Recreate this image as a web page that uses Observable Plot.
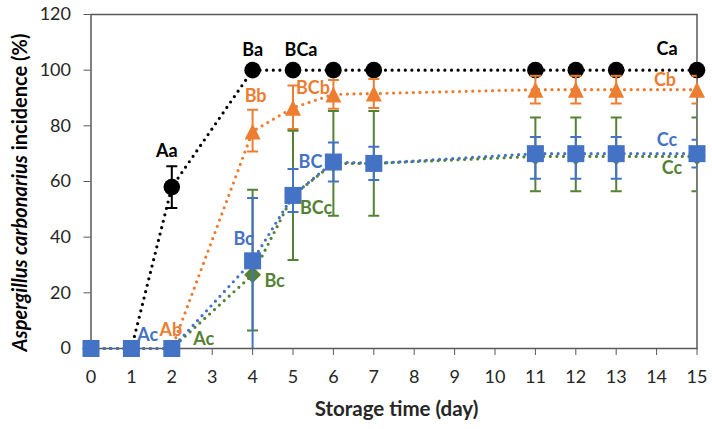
<!DOCTYPE html>
<html>
<head>
<meta charset="utf-8">
<script src="https://cdn.jsdelivr.net/npm/d3@7"></script>
<script src="https://cdn.jsdelivr.net/npm/@observablehq/plot@0.6"></script>
<style>
  body { margin: 0; background: #fff; }
  svg { display: block; }
</style>
</head>
<body>
<div id="chart"></div>
<script>
// Storage days that were sampled
const days = [0, 1, 2, 4, 5, 6, 7, 11, 12, 13, 15];

// Incidence (%) per treatment, with error bar extents (plus / minus)
const incA = [0, 0, 58, 100, 100, 100, 100, 100, 100, 100, 100];
const errAPlus = [0, 0, 7.5, 0, 0, 0, 0, 0, 0, 0, 0];
const errAMinus = [0, 0, 7.5, 0, 0, 0, 0, 0, 0, 0, 0];

const incB = [0, 0, 0, 78, 86.5, 91.3, 91.6, 93, 93, 93, 93];
const errBPlus = [0, 0, 0, 7.8, 8, 5.2, 5.2, 5, 5, 5, 5];
const errBMinus = [0, 0, 0, 7.2, 7.6, 5.2, 5.2, 5, 5, 5, 5];

const incC = [0, 0, 0, 31.5, 55, 67, 66.5, 70, 70, 70, 70];
const errCPlus = [0, 0, 0, 22.6, 9.5, 7, 6, 6, 6, 6, 5];
const errCMinus = [0, 0, 0, 34, 6, 7, 6, 9, 9, 9, 5];

const incD = [0, 0, 0, 26.5, 55, 66.5, 66.5, 69, 69, 69, 69];
const errDPlus = [0, 0, 0, 30.5, 23.2, 18.8, 18.8, 14, 14, 14, 14];
const errDMinus = [0, 0, 0, 20, 23.2, 18.8, 18.8, 12.5, 12.5, 12.5, 12.5];

// Axis ticks
const xTicks = [0, 1, 2, 3, 4, 5, 6, 7, 8, 9, 10, 11, 12, 13, 14, 15];
const yTicks = [0, 20, 40, 60, 80, 100, 120];

// Significance letters: series, day, text
const letterSeries = ["A", "B", "C", "D", "A", "B", "C", "D", "A", "B", "D", "C", "A", "B", "C", "D"];
const letterDay    = [2,   2,   2,   2,   4,   4,   4,   4,   5,   5,   5,   6,   15,  15,  15,  15];
const letterText   = ["Aa", "Ab", "Ac", "Ac", "Ba", "Bb", "Bc", "Bc", "BCa", "BCb", "BCc", "BC", "Ca", "Cb", "Cc", "Cc"];
// pixel offsets of each letter from its point
const letterDx = [-5, -1, -24, 32, 0, 3, -9, 22, 8, 20, 23, -23, -30, -32, -30, -25];
const letterDy = [-36, -18, -13, -9, -20, -35, -22, 6, -20, -20, 13, 0, -21, -9, -13, 12];

// Marker shapes
const triangleUp = {
  draw(ctx, size) {
    const s = Math.sqrt(size);
    ctx.moveTo(0, -s / 2);
    ctx.lineTo(s / 2, s / 2);
    ctx.lineTo(-s / 2, s / 2);
    ctx.closePath();
  }
};
const diamond = {
  draw(ctx, size) {
    const h = Math.sqrt(size) / 2;
    ctx.moveTo(0, -h);
    ctx.lineTo(h, 0);
    ctx.lineTo(0, h);
    ctx.lineTo(-h, 0);
    ctx.closePath();
  }
};
const capLine = {
  draw(ctx, size) {
    const w = Math.sqrt(size) / 2;
    ctx.moveTo(-w, 0);
    ctx.lineTo(w, 0);
  }
};
const SQRT_PI = Math.sqrt(Math.PI);

// Drawn in this order: black first, blue last (on top)
const series = [
  {key: "A", values: incA, plus: errAPlus, minus: errAMinus, color: "#000000", symbol: "circle", r: 8.3},
  {key: "B", values: incB, plus: errBPlus, minus: errBMinus, color: "#ED7D31", symbol: triangleUp, r: 16 / SQRT_PI},
  {key: "D", values: incD, plus: errDPlus, minus: errDMinus, color: "#548235", symbol: diamond, r: 17 / SQRT_PI},
  {key: "C", values: incC, plus: errCPlus, minus: errCMinus, color: "#4472C4", symbol: "square", r: 9.6}
];
const byKey = Object.fromEntries(series.map(s => [s.key, s]));

const font = "Lato, 'Open Sans', sans-serif";
const marks = [];

for (const s of series) {
  const rows = days.map((d, i) => ({day: d, v: s.values[i], lo: s.values[i] - s.minus[i], hi: s.values[i] + s.plus[i]}));
  const withErr = rows.filter(r => r.hi - r.lo > 0);
  marks.push(
    Plot.ruleX(withErr, {x: "day", y1: "lo", y2: "hi", stroke: s.color, strokeWidth: 2, clip: true}),
    Plot.dot(withErr, {x: "day", y: "hi", symbol: capLine, r: 11 / SQRT_PI, stroke: s.color, strokeWidth: 2, fill: "none", clip: true}),
    Plot.dot(withErr, {x: "day", y: "lo", symbol: capLine, r: 11 / SQRT_PI, stroke: s.color, strokeWidth: 2, fill: "none", clip: true}),
    Plot.line(rows, {x: "day", y: "v", stroke: s.color, strokeWidth: 3.2, strokeDasharray: "0 6.6", strokeLinecap: "round"}),
    Plot.dot(rows, {x: "day", y: "v", symbol: s.symbol, r: s.r, fill: s.color, stroke: "none"})
  );
}

const letters = letterText.map((t, i) => {
  const s = byKey[letterSeries[i]];
  const idx = days.indexOf(letterDay[i]);
  return {text: t, day: letterDay[i], v: s.values[idx], color: s.color, dx: letterDx[i], dy: letterDy[i]};
});
for (const l of letters) {
  marks.push(Plot.text([l], {x: "day", y: "v", text: "text", fill: l.color, dx: l.dx, dy: l.dy,
    fontSize: 18, fontWeight: "bold", fontFamily: font}));
}

const chart = Plot.plot({
  width: 712,
  height: 429,
  marginLeft: 90.5,
  marginRight: 15.5,
  marginTop: 14,
  marginBottom: 81,
  style: {fontFamily: font, background: "#fff"},
  x: {domain: [0, 15]},
  y: {domain: [0, 120]},
  marks: [
    Plot.frame({stroke: "#595959", strokeWidth: 1.5}),
    Plot.axisX({ticks: xTicks, tickSize: 7, tickPadding: 15, fontSize: 18, label: null, stroke: "#595959", color: "#262626", tickFormat: d => String(d)}),
    Plot.axisY({ticks: yTicks, tickSize: 7, tickPadding: 13, fontSize: 18, label: null, stroke: "#595959", color: "#262626", tickFormat: d => String(d)}),
    ...marks
  ]
});

document.getElementById("chart").appendChild(chart);

// Axis titles
const svg = d3.select(chart);
svg.append("text")
  .attr("x", 396.5).attr("y", 415.5)
  .attr("text-anchor", "middle")
  .attr("font-family", font).attr("font-size", 20.5).attr("font-weight", "bold")
  .attr("fill", "#262626")
  .text("Storage time (day)");

const yt = svg.append("text")
  .attr("transform", "translate(27,192.5) rotate(-90)")
  .attr("text-anchor", "middle")
  .attr("font-family", font).attr("font-size", 20).attr("font-weight", "bold")
  .attr("fill", "#000");
yt.append("tspan").attr("font-style", "italic").text("Aspergillus carbonarius");
yt.append("tspan").text(" incidence (%)");
</script>
</body>
</html>
